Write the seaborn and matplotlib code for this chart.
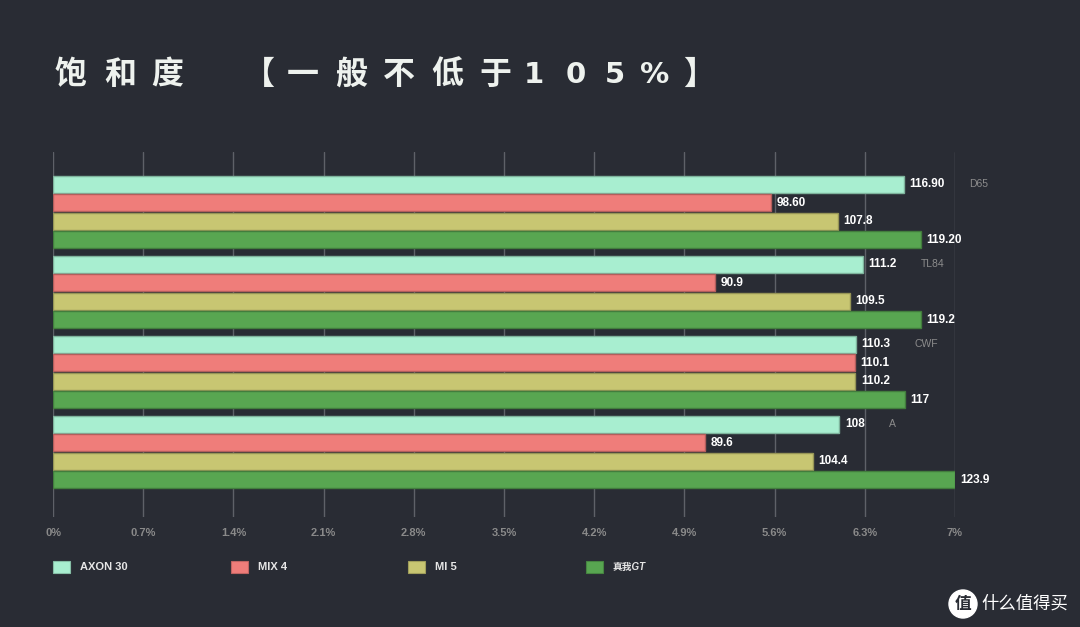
import pandas as pd
import numpy as np
import matplotlib
matplotlib.use('Agg')
import matplotlib.pyplot as plt
import matplotlib.patches as mpatches
import matplotlib.colors as mcolors
import seaborn as sns

# --- データ ---
categories = ['D65', 'TL84', 'CWF', 'A']
series = ['AXON 30', 'MIX 4', 'MI 5', '真我GT']
axon30 = [116.9, 111.2, 110.3, 108.0]
mix4 = [98.6, 90.9, 110.1, 89.6]
mi5 = [107.8, 109.5, 110.2, 104.4]
realme_gt = [119.2, 119.2, 117.0, 123.9]
axon30_labels = ['116.90', '111.2', '110.3', '108']
mix4_labels = ['98.60', '90.9', '110.1', '89.6']
mi5_labels = ['107.8', '109.5', '110.2', '104.4']
realme_gt_labels = ['119.20', '119.2', '117', '123.9']
tick_labels = ['0%', '0.7%', '1.4%', '2.1%', '2.8%', '3.5%', '4.2%', '4.9%', '5.6%', '6.3%', '7%']
colors = ['#a8eed0', '#ef7d7a', '#c8c672', '#58a651']
title_chars = list('饱和度【一般不低于105%】')

bg = '#292c34'

sns.set_theme(style='dark')
plt.rcParams['font.family'] = ['Liberation Sans', 'Noto Sans CJK SC', 'DejaVu Sans']

df = pd.DataFrame({
    'category': categories * 4,
    'series': np.repeat(series, 4),
    'value': axon30 + mix4 + mi5 + realme_gt,
})
all_labels = [axon30_labels, mix4_labels, mi5_labels, realme_gt_labels]

fig = plt.figure(figsize=(10.8, 6.27), dpi=100, facecolor=bg)
ax = fig.add_axes([53 / 1080, 1 - 517 / 627, 902 / 1080, 365 / 627])
ax.set_facecolor(bg)

sns.barplot(data=df, y='category', x='value', hue='series', hue_order=series,
            order=categories, palette=colors, saturation=1, orient='h',
            width=0.92, gap=0.06, legend=False, ax=ax, zorder=3)

# 枠線を少し濃い色に
for cont, c in zip(ax.containers, colors):
    dark = tuple(np.array(mcolors.to_rgb(c)) * 0.75)
    for p in cont:
        p.set_edgecolor(dark)
        p.set_linewidth(1.0)

xmax = max(realme_gt)
ax.set_xlim(0, xmax)
ax.set_ylim(3.8125, -0.75)
ticks = np.linspace(0, xmax, len(tick_labels))
ax.set_xticks(ticks)
ax.set_xticklabels(tick_labels, color='#8a8a8a', fontsize=8, fontweight='bold')
ax.tick_params(axis='x', length=0, pad=8)
ax.set_yticks([])
ax.set_xlabel('')
ax.set_ylabel('')
for s in ax.spines.values():
    s.set_visible(False)
ax.grid(False)
for t in ticks:
    ax.axvline(t, color='#5e6168', lw=1, zorder=1)

# 値ラベルとカテゴリラベル
for i, (cont, labs) in enumerate(zip(ax.containers, all_labels)):
    texts = ax.bar_label(cont, labels=labs, padding=4, color='white',
                         fontsize=8.5, fontweight='bold')
    if i == 0:
        for txt, cat in zip(texts, categories):
            ax.annotate(cat, xy=(1, 0.5), xycoords=txt, xytext=(24, 0),
                        textcoords='offset pixels', va='center', ha='left',
                        color='#8c8c8c', fontsize=7.5)

# 凡例
for i, (name, c) in enumerate(zip(series, colors)):
    x0 = (53 + i * 177.5) / 1080
    dark = tuple(np.array(mcolors.to_rgb(c)) * 0.8)
    fig.patches.append(mpatches.Rectangle((x0, 1 - 573 / 627), 17 / 1080, 12 / 627,
                                          transform=fig.transFigure, facecolor=c,
                                          edgecolor=dark, lw=0.8))
    fig.text(x0 + 27 / 1080, 1 - 567 / 627, name, color='#e6e6e6',
             fontsize=8 if i < 3 else 7, fontweight='bold', va='center', ha='left',
             style='italic' if i == 3 else 'normal')

# タイトル(字間を広く取る)
title_x = [55, 104, 151, 243, 287, 335, 383, 431, 479, 524, 566, 605, 640, 683]
for ch, x in zip(title_chars, title_x):
    fam = ['DejaVu Sans'] if ch.isascii() else ['Noto Sans CJK SC', 'DejaVu Sans']
    fig.text(x / 1080, 1 - 75 / 627, ch, color='#eef2ee',
             fontsize=23 if not ch.isascii() else 21,
             fontweight='heavy' if not ch.isascii() else 'bold',
             va='center', ha='left', family=fam)

# ウォーターマーク
fig.patches.append(mpatches.Ellipse((963 / 1080, 1 - 604 / 627), 28 / 1080, 28 / 627,
                                    transform=fig.transFigure, facecolor='white'))
fig.text(963 / 1080, 1 - 604 / 627, '值', color=bg, fontsize=12, fontweight='bold',
         ha='center', va='center', family=['Noto Sans CJK SC'])
fig.text(981 / 1080, 1 - 604 / 627, '什么值得买', color='white', fontsize=12.5,
         ha='left', va='center', family=['Noto Sans CJK SC'])

fig.savefig('out.png', dpi=100, facecolor=bg)
